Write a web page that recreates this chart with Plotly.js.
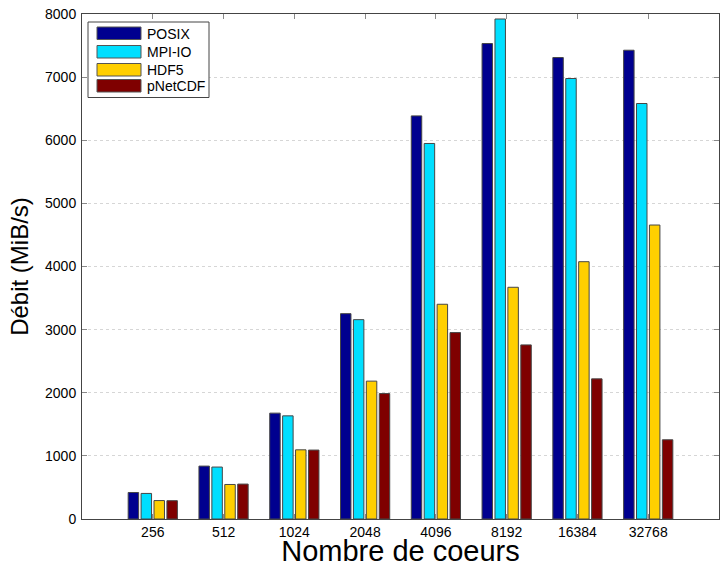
<!DOCTYPE html>
<html>
<head>
<meta charset="utf-8">
<script src="https://cdn.plot.ly/plotly-3.0.1.min.js"></script>
<style>html,body{margin:0;padding:0;background:#fff;}#chart{width:720px;height:567px;}</style>
</head>
<body>
<div id="chart"></div>
<script>
var categories = ["256", "512", "1024", "2048", "4096", "8192", "16384", "32768"];
var seriesNames = ["POSIX", "MPI-IO", "HDF5", "pNetCDF"];
var posix   = [420, 838, 1677, 3253, 6386, 7532, 7310, 7426];
var mpiio   = [405, 823, 1634, 3158, 5949, 7921, 6978, 6582];
var hdf5    = [292, 547, 1096, 2184, 3402, 3671, 4076, 4657];
var pnetcdf = [290, 553, 1092, 1987, 2953, 2758, 2220, 1255];
var yTicks  = [0, 1000, 2000, 3000, 4000, 5000, 6000, 7000, 8000];

var colors = ["#00008F", "#00DFFF", "#FFCF00", "#7F0000"];
var values = [posix, mpiio, hdf5, pnetcdf];

var traces = values.map(function (v, i) {
  return {
    type: "bar",
    name: seriesNames[i],
    x: categories,
    y: v,
    marker: {color: colors[i], line: {color: "rgb(70,70,70)", width: 1}},
    showlegend: false,
    hoverinfo: "x+y+name"
  };
});

// custom legend (paper coords)
var L = 82, W = 637, B = 519, H = 505;
function px(x) { return (x - L) / W; }
function py(y) { return (B - y) / H; }
var shapes = [{
  type: "rect", xref: "paper", yref: "paper",
  x0: px(88), x1: px(209), y0: py(22), y1: py(97.5),
  line: {color: "#444", width: 1}, fillcolor: "#fff"
}];
var annotations = [];
var rowTop = [27, 45.5, 63.5, 79.5];
seriesNames.forEach(function (n, i) {
  shapes.push({
    type: "rect", xref: "paper", yref: "paper",
    x0: px(97), x1: px(141), y0: py(rowTop[i]), y1: py(rowTop[i] + 12.5),
    line: {color: "#555", width: 1}, fillcolor: colors[i]
  });
  annotations.push({
    xref: "paper", yref: "paper", x: px(145), y: py(rowTop[i] + 6.5),
    xanchor: "left", yanchor: "middle", showarrow: false, text: n,
    font: {family: "Liberation Sans, Arial, sans-serif", size: 14, color: "#000"}
  });
});

var layout = {
  width: 720, height: 567,
  margin: {l: 82, r: 1, t: 14, b: 48},
  paper_bgcolor: "#fff", plot_bgcolor: "#fff",
  font: {family: "Liberation Sans, Arial, sans-serif", size: 14, color: "#000"},
  barmode: "group",
  bargap: 0.27,
  bargroupgap: 0.19,
  xaxis: {
    type: "category",
    range: [-1, 8],
    tickvals: categories,
    ticktext: categories,
    ticks: "inside", ticklen: 5, tickcolor: "#888",
    showline: true, linecolor: "#444", linewidth: 1, mirror: "allticks",
    showgrid: false, zeroline: false,
    title: {text: "Nombre de coeurs", font: {size: 29, color: "#000"}, standoff: 4}
  },
  yaxis: {
    range: [0, 8000],
    tickvals: yTicks,
    ticktext: yTicks.map(String),
    ticks: "inside", ticklen: 5, tickcolor: "#888",
    showline: true, linecolor: "#444", linewidth: 1, mirror: "allticks",
    showgrid: true, gridcolor: "#d6d6d6", griddash: "dot", gridwidth: 1,
    zeroline: false,
    ticklabelstandoff: 2,
    title: {text: "Débit (MiB/s)", font: {size: 24, color: "#000"}, standoff: 9}
  },
  shapes: shapes,
  annotations: annotations
};

Plotly.newPlot("chart", traces, layout, {displayModeBar: false, staticPlot: true});
</script>
</body>
</html>
